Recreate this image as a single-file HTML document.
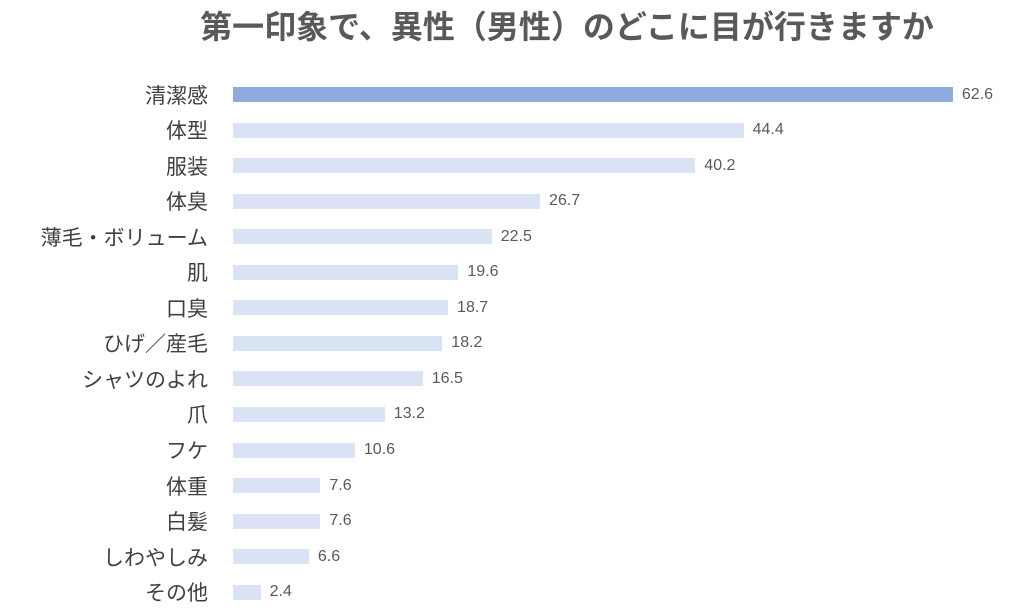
<!DOCTYPE html><html><head><meta charset="utf-8"><style>
body{margin:0;width:1024px;height:616px;background:#fff;overflow:hidden;font-family:"Liberation Sans","Noto Sans CJK JP",sans-serif;position:relative}
.t{position:absolute;top:2px;left:0;width:1024px;text-align:center;font-size:32px;font-weight:bold;color:#595959;padding-left:110px;box-sizing:border-box;white-space:nowrap}
.l{position:absolute;right:816px;font-size:21px;color:#404040;line-height:24px;white-space:nowrap}
.b{position:absolute;left:233px;height:15px;background:#dae3f3}
.v{position:absolute;font-size:16px;color:#595959;line-height:20px}
</style></head><body>
<div class="t">第一印象で、異性（男性）のどこに目が行きますか</div>
<div id="c"></div>
<script>
var d=[["清潔感",62.6],["体型",44.4],["服装",40.2],["体臭",26.7],["薄毛・ボリューム",22.5],["肌",19.6],["口臭",18.7],["ひげ／産毛",18.2],["シャツのよれ",16.5],["爪",13.2],["フケ",10.6],["体重",7.6],["白髪",7.6],["しわやしみ",6.6],["その他",2.4]];
var h="";d.forEach(function(r,i){var cy=94.5+i*35.55,w=r[1]*11.5;
h+='<div class="l" style="top:'+(cy-10)+'px">'+r[0]+'</div><div class="b" style="top:'+(cy-7.5)+'px;width:'+w+'px'+(i==0?';background:#8faadc':'')+'"></div><div class="v" style="top:'+(cy-10)+'px;left:'+(233+w+9)+'px">'+r[1].toFixed(1)+'</div>';});
document.getElementById("c").innerHTML=h;
</script></body></html>
